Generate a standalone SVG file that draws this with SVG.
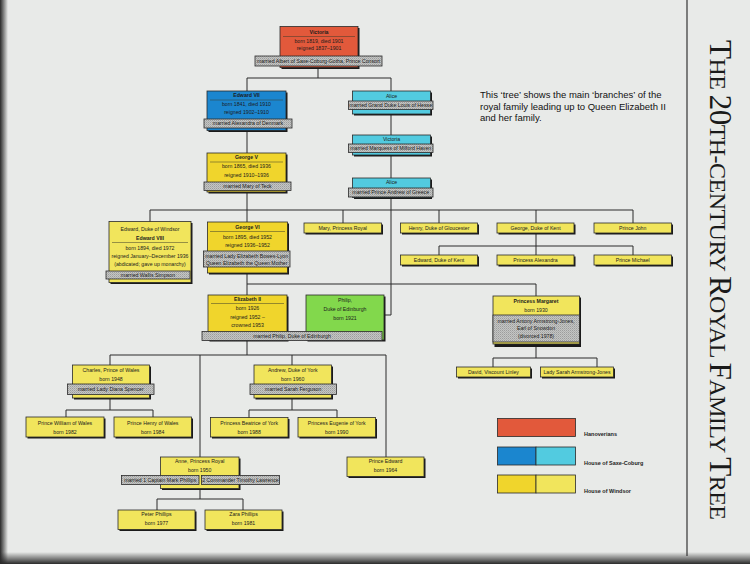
<svg xmlns="http://www.w3.org/2000/svg" width="750" height="564" viewBox="0 0 750 564">
<defs>
<pattern id="chk" width="2" height="2" patternUnits="userSpaceOnUse">
<rect width="2" height="2" fill="#c4c5c4"/>
<rect width="1" height="1" fill="#9c9d9c"/>
<rect x="1" y="1" width="1" height="1" fill="#aeb0ae"/>
</pattern>
<linearGradient id="lg" x1="0" x2="1" y1="0" y2="0">
<stop offset="0" stop-color="#2a2a2a"/>
<stop offset="1" stop-color="#2a2a2a" stop-opacity="0"/>
</linearGradient>
<linearGradient id="bg" x1="0" x2="0" y1="0" y2="1">
<stop offset="0" stop-color="#2a2a2a" stop-opacity="0"/>
<stop offset="1" stop-color="#2a2a2a"/>
</linearGradient>
</defs>
<style>
.t{font-family:"Liberation Sans",Arial,sans-serif;font-size:5.2px;fill:#1c1c1c;text-anchor:middle}
.b{font-weight:bold}
.sh{fill:#1a1a1a}
.bx{stroke:#2a2a2a;stroke-width:0.8}
.red{fill:#e2593b}
.blue{fill:#1b86cf}
.cyan{fill:#52cbe0}
.yd{fill:#f0d52c}
.yl{fill:#f1e55c}
.grn{fill:#82d84c}
.ban{fill:url(#chk);stroke:#2a2a2a;stroke-width:0.8}
.sep{stroke:#3a3a2a;stroke-width:0.5}
.c{fill:none;stroke:#2a2a2a;stroke-width:1}
.lg{font-family:"Liberation Sans",Arial,sans-serif;font-size:5.5px;font-weight:bold;fill:#222}
.intro{font-family:"Liberation Sans",Arial,sans-serif;font-size:9.5px;fill:#111}
.ttl{font-family:"Liberation Serif","Times New Roman",serif;fill:#1a1a1a}
</style>
<rect width="750" height="564" fill="#e8eae8"/>
<rect width="8" height="564" fill="url(#lg)"/>
<rect y="552" width="750" height="12" fill="url(#bg)"/>
<line x1="687" y1="0" x2="687" y2="556" stroke="#333" stroke-width="1.2"/>

<g id="connectors">
<path class="c" d="M318,68 V78 M247,78 H391 M247,78 V91 M391,78 V91"/>
<path class="c" d="M247,131 V153"/>
<path class="c" d="M391,114 V135 M391,155 V178"/>
<path class="c" d="M391,198 V315 H384"/>
<path class="c" d="M247,193 V222 M150,210 H633 M150,210 V222 M343,210 V223 M439,210 V223 M536,210 V223 M633,210 V223"/>
<path class="c" d="M536,234 V246 M439,246 H633 M439,246 V255 M536,246 V255 M633,246 V255"/>
<path class="c" d="M247,273 V295 M247,284 H536 V296"/>
<path class="c" d="M247,341 V355 M110,355 H386 M110,355 V365 M292,355 V365 M200,355 V457 M386,355 V457"/>
<path class="c" d="M110,398 V410 M66,410 H153 M66,410 V418 M153,410 V418"/>
<path class="c" d="M292,398 V410 M249,410 H337 M249,410 V418 M337,410 V418"/>
<path class="c" d="M536,347 V358 M493,358 H597 M493,358 V367 M597,358 V367"/>
<path class="c" d="M200,489 V499 M157,499 H243 M157,499 V510 M243,499 V510"/>
</g>

<g id="victoria">
<rect class="sh" x="281.5" y="28" width="78" height="41"/>
<rect class="bx red" x="280" y="26.5" width="78" height="41"/>
<line class="sep" x1="283" y1="36.5" x2="355" y2="36.5"/>
<text class="t b" x="319" y="33.5">Victoria</text>
<text class="t" x="319" y="43">born 1819, died 1901</text>
<text class="t" x="319" y="50">reigned 1837–1901</text>
<rect class="ban" x="255" y="56" width="127" height="10"/>
<text class="t" x="318.5" y="62.8">married Albert of Saxe-Coburg-Gotha, Prince Consort</text>
</g>

<g id="edward7">
<rect class="sh" x="208.5" y="92.5" width="79" height="39.5"/>
<rect class="bx blue" x="207" y="91" width="79" height="39.5"/>
<line class="sep" x1="210" y1="100" x2="283" y2="100"/>
<text class="t b" x="246.5" y="97">Edward VII</text>
<text class="t" x="246.5" y="106">born 1841, died 1910</text>
<text class="t" x="246.5" y="114">reigned 1902–1910</text>
<rect class="ban" x="204" y="119" width="88" height="9"/>
<text class="t" x="248" y="125.3">married Alexandra of Denmark</text>
</g>

<g id="alice1">
<rect class="sh" x="354" y="92.5" width="78" height="23"/>
<rect class="bx cyan" x="352.5" y="91" width="78" height="23"/>
<text class="t" x="391.5" y="97.5">Alice</text>
<rect class="ban" x="348.5" y="101" width="84.5" height="8.5"/>
<text class="t" x="390.7" y="107.2">married Grand Duke Louis of Hesse</text>
</g>

<g id="victoria2">
<rect class="sh" x="354" y="136.5" width="78" height="20"/>
<rect class="bx cyan" x="352.5" y="135" width="78" height="20"/>
<text class="t" x="391.5" y="140.5">Victoria</text>
<rect class="ban" x="348.5" y="144" width="84.5" height="8.5"/>
<text class="t" x="390.7" y="150.2">married Marquess of Milford Haven</text>
</g>

<g id="george5">
<rect class="sh" x="208.5" y="154.5" width="79" height="39"/>
<rect class="bx yd" x="207" y="153" width="79" height="39"/>
<line class="sep" x1="210" y1="162" x2="283" y2="162"/>
<text class="t b" x="246.5" y="159">George V</text>
<text class="t" x="246.5" y="168">born 1865, died 1936</text>
<text class="t" x="246.5" y="176.5">reigned 1910–1936</text>
<rect class="ban" x="204" y="182" width="87" height="8.5"/>
<text class="t" x="247.5" y="188.2">married Mary of Teck</text>
</g>

<g id="alice2">
<rect class="sh" x="354" y="179.5" width="78" height="19.5"/>
<rect class="bx cyan" x="352.5" y="178" width="78" height="19.5"/>
<text class="t" x="391.5" y="184">Alice</text>
<rect class="ban" x="348.5" y="188" width="84.5" height="9"/>
<text class="t" x="390.7" y="194.4">married Prince Andrew of Greece</text>
</g>

<g id="edward8">
<rect class="sh" x="110.5" y="223" width="82" height="61"/>
<rect class="bx yl" x="109" y="221.5" width="82" height="61"/>
<line class="sep" x1="112" y1="242.5" x2="188" y2="242.5"/>
<text class="t" x="150" y="230.5">Edward, Duke of Windsor</text>
<text class="t b" x="150" y="239.5">Edward VIII</text>
<text class="t" x="150" y="249.5">born 1894, died 1972</text>
<text class="t" x="150" y="258">reigned January–December 1936</text>
<text class="t" x="150" y="266">(abdicated; gave up monarchy)</text>
<rect class="ban" x="106" y="271" width="84" height="8"/>
<text class="t" x="148" y="276.8">married Wallis Simpson</text>
</g>

<g id="george6">
<rect class="sh" x="209" y="223.5" width="80" height="51"/>
<rect class="bx yd" x="207.5" y="222" width="80" height="51"/>
<line class="sep" x1="210" y1="231.5" x2="285" y2="231.5"/>
<text class="t b" x="247.5" y="228.5">George VI</text>
<text class="t" x="247.5" y="238.5">born 1895, died 1952</text>
<text class="t" x="247.5" y="246.5">reigned 1936–1952</text>
<rect class="ban" x="203.5" y="251" width="86.5" height="16"/>
<text class="t" x="246.7" y="258">married Lady Elizabeth Bowes-Lyon</text>
<text class="t" x="246.7" y="265">Queen Elizabeth the Queen Mother</text>
</g>

<g id="mary">
<rect class="sh" x="305.5" y="224.5" width="77.5" height="10"/>
<rect class="bx yl" x="304" y="223" width="77.5" height="10"/>
<text class="t" x="342.7" y="229.8">Mary, Princess Royal</text>
</g>
<g id="henry">
<rect class="sh" x="402" y="224.5" width="77" height="10"/>
<rect class="bx yl" x="400.5" y="223" width="77" height="10"/>
<text class="t" x="439" y="229.8">Henry, Duke of Gloucester</text>
</g>
<g id="georgekent">
<rect class="sh" x="498.5" y="224.5" width="77" height="10"/>
<rect class="bx yl" x="497" y="223" width="77" height="10"/>
<text class="t" x="535.5" y="229.8">George, Duke of Kent</text>
</g>
<g id="john">
<rect class="sh" x="595.5" y="224.5" width="77.5" height="10"/>
<rect class="bx yl" x="594" y="223" width="77.5" height="10"/>
<text class="t" x="632.7" y="229.8">Prince John</text>
</g>
<g id="edwardkent">
<rect class="sh" x="402" y="256.5" width="77" height="10"/>
<rect class="bx yl" x="400.5" y="255" width="77" height="10"/>
<text class="t" x="439" y="261.8">Edward, Duke of Kent</text>
</g>
<g id="alexandra">
<rect class="sh" x="498.5" y="256.5" width="77" height="10"/>
<rect class="bx yl" x="497" y="255" width="77" height="10"/>
<text class="t" x="535.5" y="261.8">Princess Alexandra</text>
</g>
<g id="michael">
<rect class="sh" x="595.5" y="256.5" width="77.5" height="10"/>
<rect class="bx yl" x="594" y="255" width="77.5" height="10"/>
<text class="t" x="632.7" y="261.8">Prince Michael</text>
</g>

<g id="elizabeth2">
<rect class="sh" x="209.5" y="296.5" width="79" height="45"/>
<rect class="bx yd" x="208" y="295" width="79" height="45"/>
<line class="sep" x1="211" y1="303.5" x2="284" y2="303.5"/>
<text class="t b" x="247.5" y="300.5">Elizabeth II</text>
<text class="t" x="247.5" y="310">born 1926</text>
<text class="t" x="247.5" y="318.5">reigned 1952 –</text>
<text class="t" x="247.5" y="326.5">crowned 1953</text>
</g>
<g id="philip">
<rect class="sh" x="307.5" y="296.5" width="78" height="45"/>
<rect class="bx grn" x="306" y="295" width="78" height="45"/>
<text class="t" x="345" y="301.5">Philip,</text>
<text class="t" x="345" y="310.5">Duke of Edinburgh</text>
<text class="t" x="345" y="319.5">born 1921</text>
</g>
<g id="marriage-eliz">
<rect class="ban" x="202" y="331.5" width="180" height="9"/>
<text class="t" x="292" y="337.8">married Philip, Duke of Edinburgh</text>
</g>

<g id="margaret">
<rect class="sh" x="494.5" y="297.5" width="86.5" height="49.5"/>
<rect class="bx yl" x="493" y="296" width="86.5" height="48"/>
<text class="t b" x="536" y="302.5">Princess Margaret</text>
<text class="t" x="536" y="311.5">born 1930</text>
<rect class="ban" x="493" y="315" width="86.5" height="27"/>
<text class="t" x="536" y="322.5">married Antony Armstrong-Jones,</text>
<text class="t" x="536" y="330">Earl of Snowdon</text>
<text class="t" x="536" y="337.5">(divorced 1978)</text>
</g>
<g id="linley">
<rect class="sh" x="458" y="368.5" width="74" height="10"/>
<rect class="bx yl" x="456.5" y="367" width="74" height="10"/>
<text class="t" x="493.5" y="373.7">David, Viscount Linley</text>
</g>
<g id="sarah">
<rect class="sh" x="542" y="368.5" width="73" height="10"/>
<rect class="bx yl" x="540.5" y="367" width="73" height="10"/>
<text class="t" x="577" y="373.7">Lady Sarah Armstrong-Jones</text>
</g>

<g id="charles">
<rect class="sh" x="74" y="366.5" width="77" height="33"/>
<rect class="bx yl" x="72.5" y="365" width="77" height="33"/>
<text class="t" x="111" y="371.5">Charles, Prince of Wales</text>
<text class="t" x="111" y="380.5">born 1948</text>
<rect class="ban" x="67.5" y="384" width="86.5" height="10.5"/>
<text class="t" x="110.7" y="390.9">married Lady Diana Spencer</text>
</g>
<g id="andrew">
<rect class="sh" x="255.5" y="366.5" width="77.5" height="33"/>
<rect class="bx yl" x="254" y="365" width="77.5" height="33"/>
<text class="t" x="292.7" y="371.5">Andrew, Duke of York</text>
<text class="t" x="292.7" y="380.5">born 1960</text>
<rect class="ban" x="250" y="384" width="86.5" height="10.5"/>
<text class="t" x="293.2" y="390.9">married Sarah Ferguson</text>
</g>

<g id="william">
<rect class="sh" x="27.5" y="418.5" width="78" height="20"/>
<rect class="bx yl" x="26" y="417" width="78" height="20"/>
<text class="t" x="65" y="424.5">Prince William of Wales</text>
<text class="t" x="65" y="433.5">born 1982</text>
</g>
<g id="harry">
<rect class="sh" x="115.5" y="418.5" width="77.5" height="20"/>
<rect class="bx yl" x="114" y="417" width="77.5" height="20"/>
<text class="t" x="152.7" y="424.5">Prince Henry of Wales</text>
<text class="t" x="152.7" y="433.5">born 1984</text>
</g>
<g id="beatrice">
<rect class="sh" x="212" y="419" width="77.5" height="19.5"/>
<rect class="bx yl" x="210.5" y="417.5" width="77.5" height="19.5"/>
<text class="t" x="249.2" y="424.5">Princess Beatrice of York</text>
<text class="t" x="249.2" y="433.8">born 1988</text>
</g>
<g id="eugenie">
<rect class="sh" x="299.5" y="419" width="77.5" height="19.5"/>
<rect class="bx yl" x="298" y="417.5" width="77.5" height="19.5"/>
<text class="t" x="336.7" y="424.5">Princess Eugenie of York</text>
<text class="t" x="336.7" y="433.8">born 1990</text>
</g>

<g id="anne">
<rect class="sh" x="162" y="458.5" width="78.5" height="31.5"/>
<rect class="bx yl" x="160.5" y="457" width="78.5" height="31.5"/>
<text class="t" x="199.7" y="463">Anne, Princess Royal</text>
<text class="t" x="199.7" y="471.5">born 1950</text>
<rect class="ban" x="121.5" y="475.5" width="77.5" height="9"/>
<text class="t" x="160.2" y="481.8">married 1 Captain Mark Phillips</text>
<rect class="ban" x="201.5" y="475.5" width="78" height="9"/>
<text class="t" x="240.5" y="481.8">2 Commander Timothy Lawrence</text>
</g>
<g id="edward">
<rect class="sh" x="348.5" y="458.5" width="77" height="19.5"/>
<rect class="bx yl" x="347" y="457" width="77" height="19.5"/>
<text class="t" x="385.5" y="463">Prince Edward</text>
<text class="t" x="385.5" y="472">born 1964</text>
</g>
<g id="peter">
<rect class="sh" x="119.5" y="511.5" width="77" height="19.5"/>
<rect class="bx yl" x="118" y="510" width="77" height="19.5"/>
<text class="t" x="156.5" y="515.8">Peter Phillips</text>
<text class="t" x="156.5" y="524.8">born 1977</text>
</g>
<g id="zara">
<rect class="sh" x="206.5" y="511.5" width="77" height="19.5"/>
<rect class="bx yl" x="205" y="510" width="77" height="19.5"/>
<text class="t" x="243.5" y="515.8">Zara Phillips</text>
<text class="t" x="243.5" y="524.8">born 1981</text>
</g>

<g id="intro">
<text class="intro" x="480" y="98">This ‘tree’ shows the main ‘branches’ of the</text>
<text class="intro" x="480" y="109.5">royal family leading up to Queen Elizabeth II</text>
<text class="intro" x="480" y="121">and her family.</text>
</g>

<g id="legend">
<rect class="bx red" x="497.5" y="418.5" width="78" height="18"/>
<text class="lg" x="584" y="436">Hanoverians</text>
<rect class="bx blue" x="497.5" y="447" width="38.5" height="18"/>
<rect class="bx cyan" x="536" y="447" width="39.5" height="18"/>
<text class="lg" x="584" y="464.5">House of Saxe-Coburg</text>
<rect class="bx yd" x="497.5" y="475" width="38.5" height="18"/>
<rect class="bx yl" x="536" y="475" width="39.5" height="18"/>
<text class="lg" x="584" y="492.5">House of Windsor</text>
</g>

<g id="title" transform="translate(710,40) rotate(90)">
<text class="ttl" x="0" y="0" textLength="480" lengthAdjust="spacing"><tspan font-size="31">T</tspan><tspan font-size="24">HE </tspan><tspan font-size="31">20</tspan><tspan font-size="24">TH-CENTURY </tspan><tspan font-size="31">R</tspan><tspan font-size="24">OYAL </tspan><tspan font-size="31">F</tspan><tspan font-size="24">AMILY </tspan><tspan font-size="31">T</tspan><tspan font-size="24">REE</tspan></text>
</g>
</svg>
